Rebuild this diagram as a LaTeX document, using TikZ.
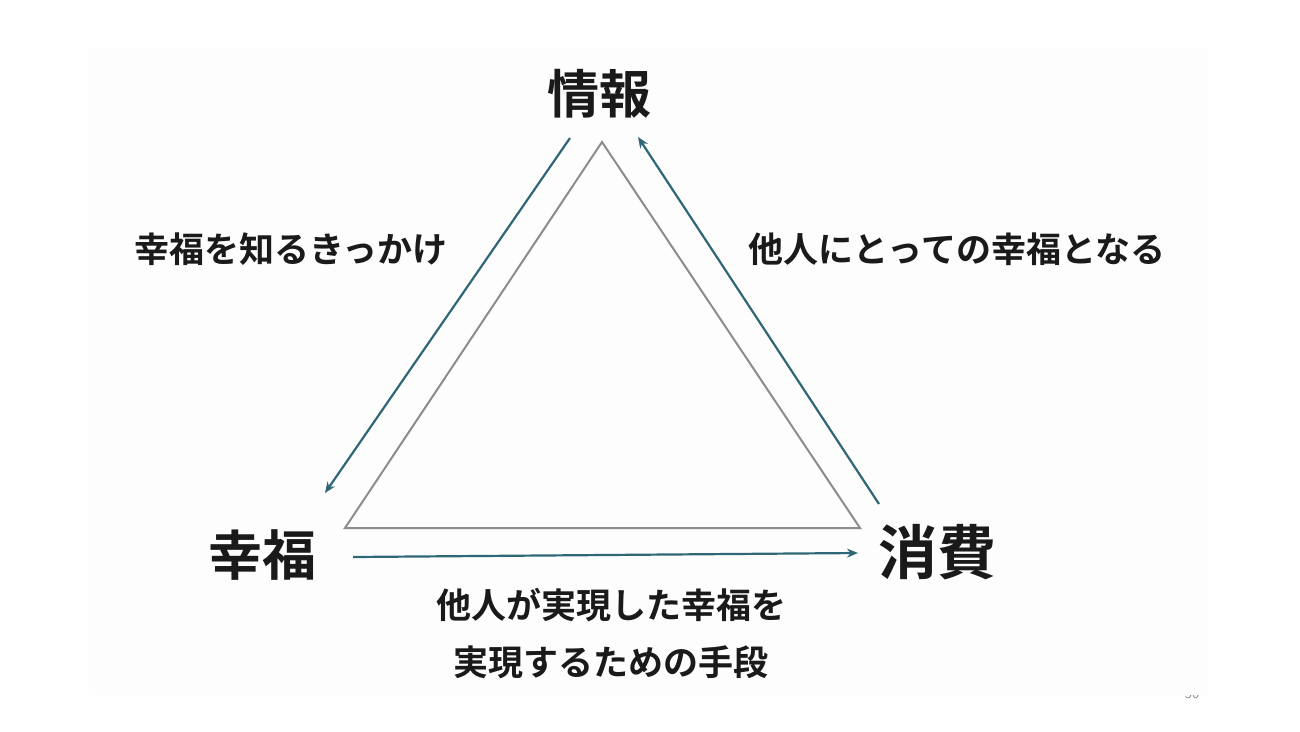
\documentclass[tikz,border=0pt]{standalone}
\usepackage{fontspec}
\newfontfamily\jpfont{Noto Sans CJK JP}[BoldFont={Noto Sans CJK JP Bold}]
\usetikzlibrary{arrows.meta}
\definecolor{tealarrow}{HTML}{2F6777}
\definecolor{trigray}{HTML}{8C8C8C}
\definecolor{panelbg}{HTML}{FDFDFD}
\definecolor{inkblack}{HTML}{1A1A1A}
\tikzset{
  vertexlabel/.style={font=\jpfont\bfseries\fontsize{#1}{#1}\selectfont, text=inkblack, inner sep=0pt},
  edgelabel/.style={font=\jpfont\bfseries\fontsize{35}{57}\selectfont, text=inkblack, inner sep=0pt, align=center},
  triedge/.style={draw=trigray, line width=2pt, line join=miter},
  flow/.style={draw=tealarrow, line width=2.2pt, -{Stealth[length=11pt,width=9pt]}},
}
\begin{document}
\begin{tikzpicture}[x=1pt,y=-1pt]
\useasboundingbox (0,0) rectangle (1300,731);
\fill[white] (0,0) rectangle (1300,731);
% page number (partly hidden behind the image panel)
\node[font=\sffamily\fontsize{15}{15}\selectfont, text=black!45, inner sep=0pt] (pagenum) at (1192,694) {30};
\fill[panelbg] (89,47) rectangle (1209,695);
% triangle
\coordinate (apex) at (602,142);
\coordinate (bl) at (345,528);
\coordinate (br) at (860,528);
\draw[triedge] (apex) -- (bl) -- (br) -- cycle;
% vertex labels
\node[vertexlabel=52] (info) at (599,94) {情報};
\node[vertexlabel=54] (happy) at (262,555) {幸福};
\node[vertexlabel=59] (cons) at (937,552) {消費};
% arrow endpoints
\coordinate (la1) at (570,138);
\coordinate (la2) at (325,493);
\coordinate (ra1) at (879,504);
\coordinate (ra2) at (638,137);
\coordinate (ba1) at (353,557);
\coordinate (ba2) at (858,553);
\draw[flow] (la1) -- (la2);
\draw[flow] (ra1) -- (ra2);
\draw[flow] (ba1) -- (ba2);
% edge labels
\node[edgelabel] (lefttext) at (291,249) {幸福を知るきっかけ};
\node[edgelabel] (righttext) at (957,249) {他人にとっての幸福となる};
\node[edgelabel] (bottomtext) at (611,634) {他人が実現した幸福を\\実現するための手段};
\end{tikzpicture}
\end{document}
